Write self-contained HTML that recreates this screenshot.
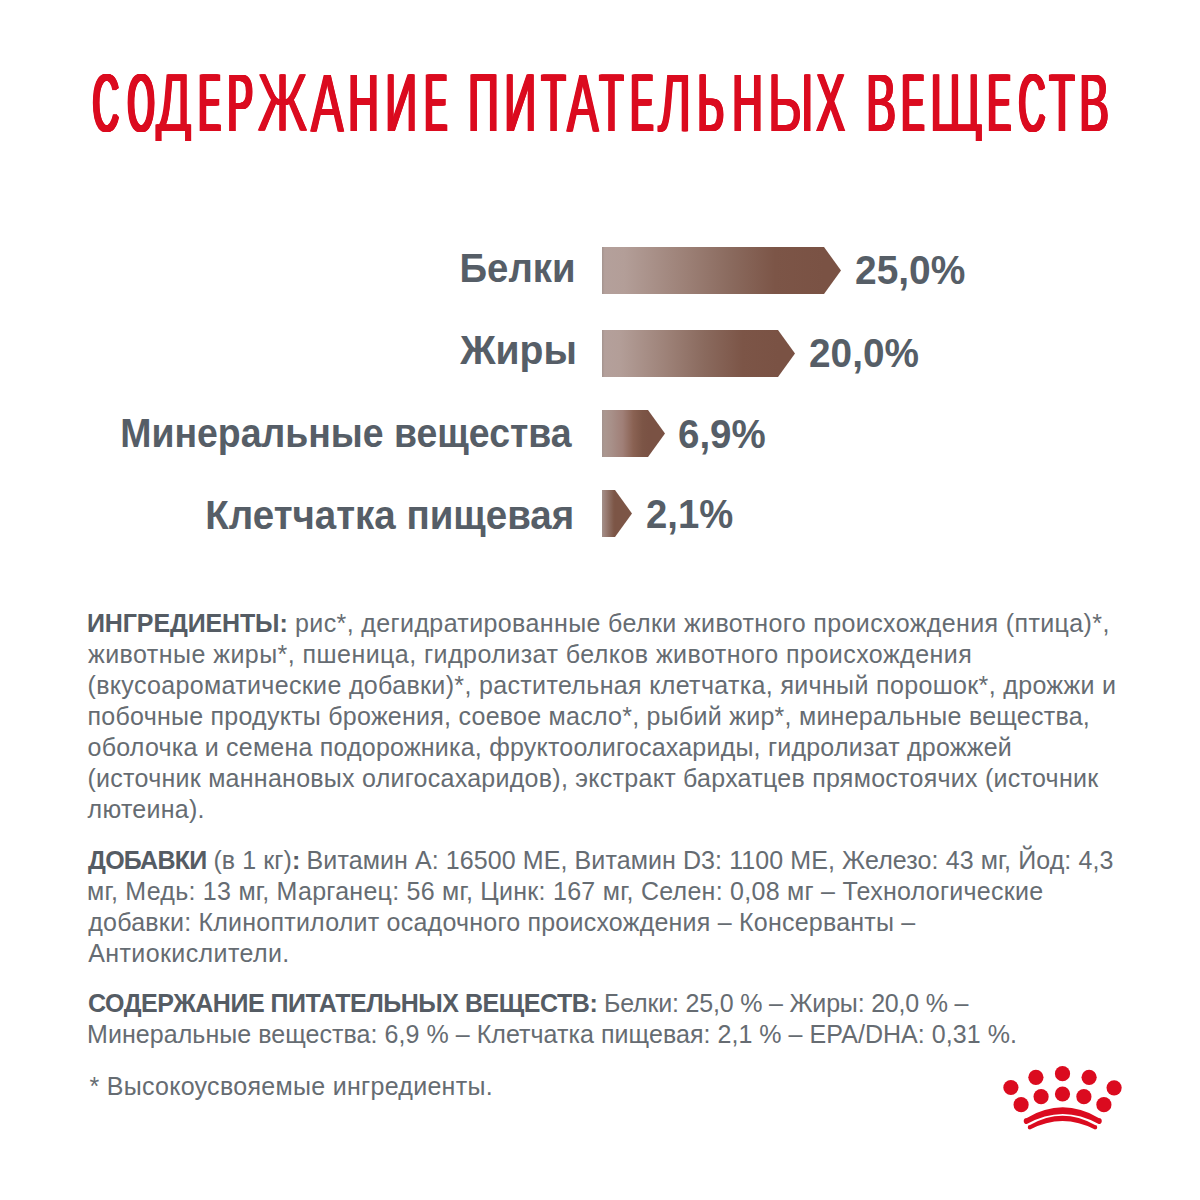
<!DOCTYPE html>
<html><head><meta charset="utf-8">
<style>
html,body{margin:0;padding:0;background:#fff;}
body{width:1200px;height:1200px;position:relative;overflow:hidden;font-family:"Liberation Sans",sans-serif;}
.tl{position:absolute;top:60.5px;font-size:82.3px;line-height:1;color:#db0b1f;transform-origin:0 0;white-space:nowrap;}
.lbl{position:absolute;white-space:nowrap;font-weight:bold;color:#565e67;font-size:40.5px;line-height:1;transform-origin:100% 0;}
.val{position:absolute;white-space:nowrap;font-weight:bold;color:#565e67;font-size:40.5px;line-height:1;transform-origin:0 0;}
.ln{position:absolute;white-space:nowrap;font-size:25px;line-height:1;color:#666c72;transform-origin:0 0;}
.ln b{color:#555c64;}
</style></head><body>
<div class="tl" style="left:90.84px;transform:scaleX(0.4407);text-shadow:1px 0 0 #db0b1f, 2px 0 0 #db0b1f, 3px 0 0 #db0b1f, 4px 0 0 #db0b1f, 5px 0 0 #db0b1f, 6px 0 0 #db0b1f, 7px 0 0 #db0b1f, 7.23px 0 0 #db0b1f">С</div>
<div class="tl" style="left:125.64px;transform:scaleX(0.4156);text-shadow:1px 0 0 #db0b1f, 2px 0 0 #db0b1f, 3px 0 0 #db0b1f, 4px 0 0 #db0b1f, 5px 0 0 #db0b1f, 6px 0 0 #db0b1f, 7px 0 0 #db0b1f, 8px 0 0 #db0b1f, 8.16px 0 0 #db0b1f">О</div>
<div class="tl" style="left:154.76px;transform:scaleX(0.6393);text-shadow:1px 0 0 #db0b1f, 2px 0 0 #db0b1f, 2.44px 0 0 #db0b1f;clip-path:inset(-20px -40px 1.8000000000000114px -20px)">Д</div>
<div class="tl" style="left:196.63px;transform:scaleX(0.3962);text-shadow:1px 0 0 #db0b1f, 2px 0 0 #db0b1f, 3px 0 0 #db0b1f, 4px 0 0 #db0b1f, 5px 0 0 #db0b1f, 6px 0 0 #db0b1f, 7px 0 0 #db0b1f, 8px 0 0 #db0b1f, 8.64px 0 0 #db0b1f">Е</div>
<div class="tl" style="left:226.45px;transform:scaleX(0.464);text-shadow:1px 0 0 #db0b1f, 2px 0 0 #db0b1f, 3px 0 0 #db0b1f, 4px 0 0 #db0b1f, 5px 0 0 #db0b1f, 6px 0 0 #db0b1f, 6.46px 0 0 #db0b1f">Р</div>
<div class="tl" style="left:257.0px;transform:scaleX(0.6507);text-shadow:1px 0 0 #db0b1f, 2px 0 0 #db0b1f, 2.25px 0 0 #db0b1f">Ж</div>
<div class="tl" style="left:310.01px;transform:scaleX(0.5895);text-shadow:1px 0 0 #db0b1f, 2px 0 0 #db0b1f, 3px 0 0 #db0b1f, 3.34px 0 0 #db0b1f">А</div>
<div class="tl" style="left:347.33px;transform:scaleX(0.5098);text-shadow:1px 0 0 #db0b1f, 2px 0 0 #db0b1f, 3px 0 0 #db0b1f, 4px 0 0 #db0b1f, 5px 0 0 #db0b1f, 5.14px 0 0 #db0b1f">Н</div>
<div class="tl" style="left:384.02px;transform:scaleX(0.54);text-shadow:1px 0 0 #db0b1f, 2px 0 0 #db0b1f, 3px 0 0 #db0b1f, 4px 0 0 #db0b1f, 4.39px 0 0 #db0b1f">И</div>
<div class="tl" style="left:422.85px;transform:scaleX(0.4075);text-shadow:1px 0 0 #db0b1f, 2px 0 0 #db0b1f, 3px 0 0 #db0b1f, 4px 0 0 #db0b1f, 5px 0 0 #db0b1f, 6px 0 0 #db0b1f, 7px 0 0 #db0b1f, 8px 0 0 #db0b1f, 8.17px 0 0 #db0b1f">Е</div>
<div class="tl" style="left:466.53px;transform:scaleX(0.5098);text-shadow:1px 0 0 #db0b1f, 2px 0 0 #db0b1f, 3px 0 0 #db0b1f, 4px 0 0 #db0b1f, 5px 0 0 #db0b1f, 5.14px 0 0 #db0b1f">П</div>
<div class="tl" style="left:503.11px;transform:scaleX(0.542);text-shadow:1px 0 0 #db0b1f, 2px 0 0 #db0b1f, 3px 0 0 #db0b1f, 4px 0 0 #db0b1f, 4.35px 0 0 #db0b1f">И</div>
<div class="tl" style="left:539.63px;transform:scaleX(0.4846);text-shadow:1px 0 0 #db0b1f, 2px 0 0 #db0b1f, 3px 0 0 #db0b1f, 4px 0 0 #db0b1f, 5px 0 0 #db0b1f, 5.83px 0 0 #db0b1f">Т</div>
<div class="tl" style="left:566.23px;transform:scaleX(0.5702);text-shadow:1px 0 0 #db0b1f, 2px 0 0 #db0b1f, 3px 0 0 #db0b1f, 3.73px 0 0 #db0b1f">А</div>
<div class="tl" style="left:598.34px;transform:scaleX(0.4808);text-shadow:1px 0 0 #db0b1f, 2px 0 0 #db0b1f, 3px 0 0 #db0b1f, 4px 0 0 #db0b1f, 5px 0 0 #db0b1f, 5.94px 0 0 #db0b1f">Т</div>
<div class="tl" style="left:628.93px;transform:scaleX(0.4094);text-shadow:1px 0 0 #db0b1f, 2px 0 0 #db0b1f, 3px 0 0 #db0b1f, 4px 0 0 #db0b1f, 5px 0 0 #db0b1f, 6px 0 0 #db0b1f, 7px 0 0 #db0b1f, 8px 0 0 #db0b1f, 8.1px 0 0 #db0b1f">Е</div>
<div class="tl" style="left:657.18px;transform:scaleX(0.6204);text-shadow:1px 0 0 #db0b1f, 2px 0 0 #db0b1f, 2.98px 0 0 #db0b1f">Л</div>
<div class="tl" style="left:695.53px;transform:scaleX(0.4958);text-shadow:1px 0 0 #db0b1f, 2px 0 0 #db0b1f, 3px 0 0 #db0b1f, 4px 0 0 #db0b1f, 5px 0 0 #db0b1f, 5.52px 0 0 #db0b1f">Ь</div>
<div class="tl" style="left:731.23px;transform:scaleX(0.5098);text-shadow:1px 0 0 #db0b1f, 2px 0 0 #db0b1f, 3px 0 0 #db0b1f, 4px 0 0 #db0b1f, 5px 0 0 #db0b1f, 5.14px 0 0 #db0b1f">Н</div>
<div class="tl" style="left:767.16px;transform:scaleX(0.6339);text-shadow:1px 0 0 #db0b1f, 2px 0 0 #db0b1f, 2.53px 0 0 #db0b1f">Ы</div>
<div class="tl" style="left:815.25px;transform:scaleX(0.5232);text-shadow:1px 0 0 #db0b1f, 2px 0 0 #db0b1f, 3px 0 0 #db0b1f, 4px 0 0 #db0b1f, 4.8px 0 0 #db0b1f">Х</div>
<div class="tl" style="left:864.51px;transform:scaleX(0.5417);text-shadow:1px 0 0 #db0b1f, 2px 0 0 #db0b1f, 3px 0 0 #db0b1f, 4px 0 0 #db0b1f, 4.35px 0 0 #db0b1f">В</div>
<div class="tl" style="left:900.13px;transform:scaleX(0.4094);text-shadow:1px 0 0 #db0b1f, 2px 0 0 #db0b1f, 3px 0 0 #db0b1f, 4px 0 0 #db0b1f, 5px 0 0 #db0b1f, 6px 0 0 #db0b1f, 7px 0 0 #db0b1f, 8px 0 0 #db0b1f, 8.1px 0 0 #db0b1f">Е</div>
<div class="tl" style="left:928.29px;transform:scaleX(0.7162);text-shadow:1px 0 0 #db0b1f, 1.43px 0 0 #db0b1f;clip-path:inset(-20px -40px 1.8000000000000114px -20px)">Щ</div>
<div class="tl" style="left:985.74px;transform:scaleX(0.4231);text-shadow:1px 0 0 #db0b1f, 2px 0 0 #db0b1f, 3px 0 0 #db0b1f, 4px 0 0 #db0b1f, 5px 0 0 #db0b1f, 6px 0 0 #db0b1f, 7px 0 0 #db0b1f, 7.56px 0 0 #db0b1f">Е</div>
<div class="tl" style="left:1016.9px;transform:scaleX(0.4508);text-shadow:1px 0 0 #db0b1f, 2px 0 0 #db0b1f, 3px 0 0 #db0b1f, 4px 0 0 #db0b1f, 5px 0 0 #db0b1f, 6px 0 0 #db0b1f, 6.63px 0 0 #db0b1f">С</div>
<div class="tl" style="left:1048.3px;transform:scaleX(0.5);text-shadow:1px 0 0 #db0b1f, 2px 0 0 #db0b1f, 3px 0 0 #db0b1f, 4px 0 0 #db0b1f, 5px 0 0 #db0b1f, 5.4px 0 0 #db0b1f">Т</div>
<div class="tl" style="left:1078.21px;transform:scaleX(0.5417);text-shadow:1px 0 0 #db0b1f, 2px 0 0 #db0b1f, 3px 0 0 #db0b1f, 4px 0 0 #db0b1f, 4.35px 0 0 #db0b1f">В</div>
<div class="lbl" style="right:624px;top:248.2px;transform:scaleX(0.94669);letter-spacing:0px">Белки</div>
<div class="lbl" style="right:623.1px;top:329.9px;transform:scaleX(0.96559);letter-spacing:0px">Жиры</div>
<div class="lbl" style="right:628.4px;top:413.2px;transform:scaleX(0.92385);letter-spacing:0px">Минеральные вещества</div>
<div class="lbl" style="right:625.9px;top:495.1px;transform:scaleX(0.95025);letter-spacing:0px">Клетчатка пищевая</div>
<svg class="bars" style="position:absolute;left:0;top:0" width="1200" height="600"><defs>
<linearGradient id="g0" gradientUnits="userSpaceOnUse" x1="602" x2="824" y1="0" y2="0"><stop offset="0" stop-color="#a3938e"/><stop offset="0.012" stop-color="#b4a09b"/><stop offset="0.1" stop-color="#b39e98"/><stop offset="0.38" stop-color="#9c8076"/><stop offset="0.58" stop-color="#8a6a5e"/><stop offset="0.78" stop-color="#7c5547"/><stop offset="1" stop-color="#7a5244"/></linearGradient>
<linearGradient id="g1" gradientUnits="userSpaceOnUse" x1="602" x2="778" y1="0" y2="0"><stop offset="0" stop-color="#a3938e"/><stop offset="0.015" stop-color="#b4a09b"/><stop offset="0.1" stop-color="#b39e98"/><stop offset="0.38" stop-color="#9c8076"/><stop offset="0.58" stop-color="#8a6a5e"/><stop offset="0.8" stop-color="#7c5547"/><stop offset="1" stop-color="#7a5244"/></linearGradient>
<linearGradient id="g2" gradientUnits="userSpaceOnUse" x1="602" x2="648" y1="0" y2="0"><stop offset="0" stop-color="#a3938e"/><stop offset="0.06" stop-color="#ab9790"/><stop offset="0.2" stop-color="#a89089"/><stop offset="0.45" stop-color="#a07f77"/><stop offset="0.68" stop-color="#8a6253"/><stop offset="0.88" stop-color="#7c5546"/><stop offset="1" stop-color="#7a5244"/></linearGradient>
<linearGradient id="g3" gradientUnits="userSpaceOnUse" x1="602" x2="615" y1="0" y2="0"><stop offset="0" stop-color="#a3908a"/><stop offset="0.3" stop-color="#9a7d74"/><stop offset="0.6" stop-color="#8a6a5e"/><stop offset="0.9" stop-color="#7e5849"/><stop offset="1" stop-color="#7c5546"/></linearGradient>
</defs>
<polygon points="602,247 824,247 841,270.5 824,294 602,294" fill="url(#g0)"/>
<polygon points="602,330 778,330 795,353.5 778,377 602,377" fill="url(#g1)"/>
<polygon points="602,410 648,410 665,433.5 648,457 602,457" fill="url(#g2)"/>
<polygon points="602,490 615,490 632,513.5 615,537 602,537" fill="url(#g3)"/>
</svg>
<div class="val" style="left:854.7px;top:250.3px;transform:scaleX(0.96052);letter-spacing:0px">25,0%</div>
<div class="val" style="left:808.6px;top:333px;transform:scaleX(0.95742);letter-spacing:0px">20,0%</div>
<div class="val" style="left:678.4px;top:414.1px;transform:scaleX(0.95026);letter-spacing:0px">6,9%</div>
<div class="val" style="left:645.9px;top:494.1px;transform:scaleX(0.94427);letter-spacing:0px">2,1%</div>
<div class="ln" style="left:87px;top:611px;letter-spacing:0.38px;word-spacing:0px"><b style="letter-spacing:-0.12px">ИНГРЕДИЕНТЫ:</b> рис*, дегидратированные белки животного происхождения (птица)*,</div>
<div class="ln" style="left:88px;top:642px;letter-spacing:0.4538px;word-spacing:0px">животные жиры*, пшеница, гидролизат белков животного происхождения</div>
<div class="ln" style="left:87.5px;top:673px;letter-spacing:0.3429px;word-spacing:0px">(вкусоароматические добавки)*, растительная клетчатка, яичный порошок*, дрожжи и</div>
<div class="ln" style="left:87.5px;top:704px;letter-spacing:0.2533px;word-spacing:0px">побочные продукты брожения, соевое масло*, рыбий жир*, минеральные вещества,</div>
<div class="ln" style="left:87.6px;top:735px;letter-spacing:0.2159px;word-spacing:0px">оболочка и семена подорожника, фруктоолигосахариды, гидролизат дрожжей</div>
<div class="ln" style="left:87.5px;top:766px;letter-spacing:0.2649px;word-spacing:0px">(источник маннановых олигосахаридов), экстракт бархатцев прямостоячих (источник</div>
<div class="ln" style="left:87.6px;top:797px;letter-spacing:0.25px;word-spacing:0px">лютеина).</div>
<div class="ln" style="left:88.1px;top:848px;letter-spacing:0.0931px;word-spacing:0px"><b style="letter-spacing:-0.7569px">ДОБАВКИ</b> (в 1 кг)<b style="letter-spacing:-0.7569px">:</b> Витамин A: 16500 МЕ, Витамин D3: 1100 МЕ, Железо: 43 мг, Йод: 4,3</div>
<div class="ln" style="left:87.1px;top:879px;letter-spacing:0.2648px;word-spacing:0px">мг, Медь: 13 мг, Марганец: 56 мг, Цинк: 167 мг, Селен: 0,08 мг – Технологические</div>
<div class="ln" style="left:88.3px;top:910px;letter-spacing:0.2237px;word-spacing:0px">добавки: Клиноптилолит осадочного происхождения – Консерванты –</div>
<div class="ln" style="left:88.25px;top:941px;letter-spacing:0.3929px;word-spacing:0px">Антиокислители.</div>
<div class="ln" style="left:88.1px;top:991.4px;letter-spacing:-0.1886px;word-spacing:0px"><b style="letter-spacing:-0.4686px">СОДЕРЖАНИЕ ПИТАТЕЛЬНЫХ ВЕЩЕСТВ:</b> Белки: 25,0 % – Жиры: 20,0 % –</div>
<div class="ln" style="left:87.1px;top:1022.4px;letter-spacing:0.0486px;word-spacing:0px">Минеральные вещества: 6,9 % – Клетчатка пищевая: 2,1 % – EPA/DHA: 0,31 %.</div>
<div class="ln" style="left:89.4px;top:1073.5px;letter-spacing:0.2967px;word-spacing:0px">* Высокоусвояемые ингредиенты.</div>
<svg style="position:absolute;left:990px;top:1060px" width="140" height="80" viewBox="990 1060 140 80">
<g fill="#db0b1f">
<circle cx="1062.5" cy="1073.7" r="7.6"/>
<circle cx="1035.9" cy="1077.3" r="7.6"/>
<circle cx="1089.1" cy="1077.3" r="7.6"/>
<circle cx="1010.9" cy="1087.5" r="7.6"/>
<circle cx="1114.1" cy="1087.8" r="7.6"/>
<circle cx="1062.5" cy="1094" r="7.6"/>
<circle cx="1041.1" cy="1096.7" r="7.6"/>
<circle cx="1083.9" cy="1096.7" r="7.6"/>
<circle cx="1021.1" cy="1104.7" r="7.6"/>
<circle cx="1103.9" cy="1104.7" r="7.6"/>
<path d="M1026.8,1117.9 Q1062.75,1096.7 1098.7,1117.9 A3.1,3.1 0 0 1 1098.7,1124.1 Q1062.75,1103.9 1026.8,1124.1 A3.1,3.1 0 0 1 1026.8,1117.9 Z"/>
<path d="M1030,1125.05 Q1062.5,1106.55 1095,1125.05 A2.25,2.25 0 0 1 1095,1129.55 Q1062.5,1112.45 1030,1129.55 A2.25,2.25 0 0 1 1030,1125.05 Z"/>
</g>
</svg>
</body></html>
